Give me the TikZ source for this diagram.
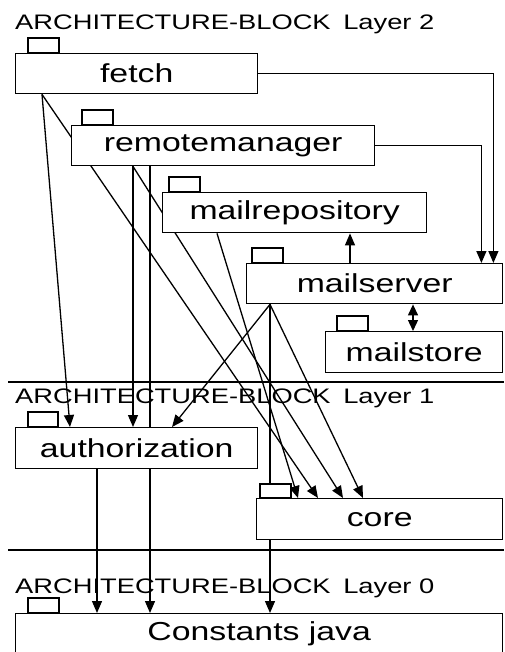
\documentclass[tikz,border=0pt]{standalone}
\usepackage{fontspec}
\setmainfont{Liberation Sans}[FakeStretch=1.3]
\usetikzlibrary{arrows.meta,backgrounds}

\begin{document}
\begin{tikzpicture}[x=1pt,y=-1pt,
  pkg/.style={draw,fill=white,line width=1.4pt,inner sep=0pt,minimum height=40pt,anchor=north west,font=\fontsize{26}{30}\selectfont},
  tab/.style={draw,fill=white,line width=1.4pt},
  layer/.style={anchor=base west,inner sep=0pt,font=\fontsize{21}{24}\selectfont},
  sep/.style={line width=1.4pt},
  dep/.style={-{Triangle[length=12pt,width=10pt]},line width=1.3pt},
  both/.style={{Triangle[length=11pt,width=10pt]}-{Triangle[length=11pt,width=10pt]},line width=1.3pt}
]
\clip (0,0) rectangle (504,652);
\node[layer] (title2) at (15,30) {ARCHITECTURE-BLOCK\hspace{0.6em}Layer 2};
\node[layer] (title1) at (15,403) {ARCHITECTURE-BLOCK\hspace{0.6em}Layer 1};
\node[layer] (title0) at (15,593) {ARCHITECTURE-BLOCK\hspace{0.6em}Layer 0};
\draw[sep] (8,382) -- (504,382);
\draw[sep] (8,550) -- (504,550);

\node[pkg,minimum width=242pt] (fetch) at (15,53) {fetch};
\node[pkg,minimum width=303pt] (remote) at (71,125) {remotemanager};
\node[pkg,minimum width=264pt] (mailrepo) at (162,192) {mailrepository};
\node[pkg,minimum width=256pt] (mailsrv) at (246,263) {mailserver};
\node[pkg,minimum width=177pt,minimum height=41pt] (mailstore) at (325,331) {mailstore};
\node[pkg,minimum width=242pt,minimum height=41pt] (auth) at (15,427) {authorization};
\node[pkg,minimum width=246pt,minimum height=41pt] (core) at (256,498) {core};
\node[pkg,minimum width=487pt,minimum height=41pt] (consts) at (15,613) {Constants java};

% package tabs
\draw[tab] ([xshift=13pt]fetch.north west) rectangle ++(31pt,15pt);
\draw[tab] ([xshift=11pt]remote.north west) rectangle ++(31pt,15pt);
\draw[tab] ([xshift=7pt]mailrepo.north west) rectangle ++(31pt,15pt);
\draw[tab] ([xshift=6pt]mailsrv.north west) rectangle ++(31pt,15pt);
\draw[tab] ([xshift=12pt]mailstore.north west) rectangle ++(31pt,15pt);
\draw[tab] ([xshift=13pt]auth.north west) rectangle ++(30pt,15pt);
\draw[tab] ([xshift=4pt]core.north west) rectangle ++(31pt,14pt);
\draw[tab] ([xshift=13pt]consts.north west) rectangle ++(31pt,15pt);

% dependencies
\begin{scope}[on background layer]
\draw[dep] (fetch.east) -| ([xshift=-10pt]mailsrv.north east);
\draw[dep] (remote.east) -| ([xshift=-22pt]mailsrv.north east);
\draw[dep] ([xshift=104pt]mailsrv.north west) -- ([xshift=188pt]mailrepo.south west);
\draw[both] ([xshift=167pt]mailsrv.south west) -- ([xshift=88pt]mailstore.north west);
\draw[dep] ([xshift=27pt]fetch.south west) -- ([xshift=55pt]auth.north west);
\draw[dep] ([xshift=27pt]fetch.south west) -- ([xshift=62pt]core.north west);
\draw[dep] ([xshift=62pt]remote.south west) -- ([xshift=118pt]auth.north west);
\draw[dep] ([xshift=79pt]remote.south west) -- ([xshift=135pt]consts.north west);
\draw[dep] ([xshift=62pt]remote.south west) -- ([xshift=87pt]core.north west);
\draw[dep] ([xshift=55pt]mailrepo.south west) -- ([xshift=42pt]core.north west);
\draw[dep] ([xshift=24pt]mailsrv.south west) -- ([xshift=157pt]auth.north west);
\draw[dep] ([xshift=24pt]mailsrv.south west) -- ([xshift=107pt]core.north west);
\draw[dep] ([xshift=24pt]mailsrv.south west) -- ([xshift=255pt]consts.north west);
\draw[dep] ([xshift=82pt]auth.south west) -- ([xshift=82pt]consts.north west);
\end{scope}
\end{tikzpicture}
\end{document}
